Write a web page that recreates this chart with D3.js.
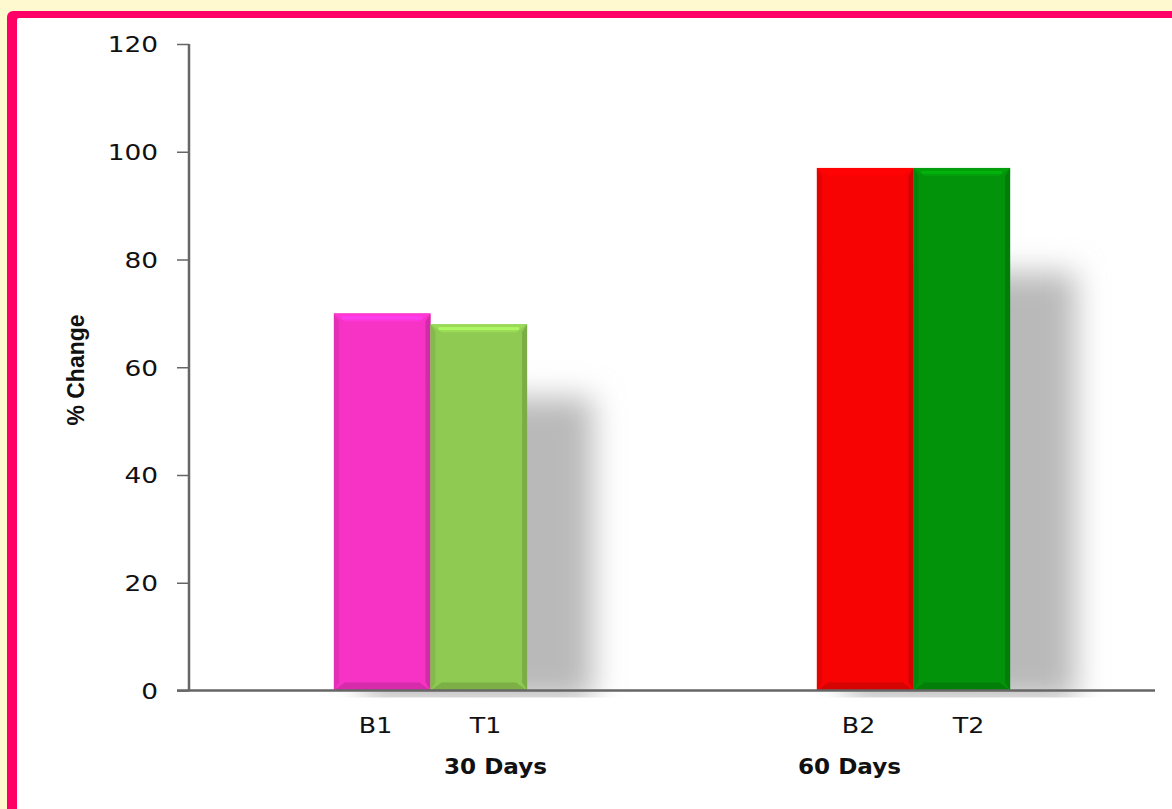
<!DOCTYPE html>
<html>
<head>
<meta charset="utf-8">
<script src="https://cdn.jsdelivr.net/npm/d3@7/dist/d3.min.js"></script>
<style>
  html, body { margin: 0; padding: 0; background: #fff9cf; }
  svg { display: block; }
</style>
</head>
<body>
<svg id="chart" width="1172" height="809"></svg>
<script>
// Percent change at 30 and 60 days, baseline (B) vs treatment (T)
const categories = ["30 Days", "60 Days"];
const seriesKeys = ["B", "T"];
const barLabels = [["B1", "T1"], ["B2", "T2"]];
const bValues = [70, 97];
const tValues = [68, 97];
const barColors = [["#f733c6", "#8fcb52"], ["#f70303", "#02930a"]];
const yTicks = [0, 20, 40, 60, 80, 100, 120];
const yTitle = "% Change";

const svg = d3.select("#chart");
const W = 1172, H = 809;

// page background and framed panel
svg.append("rect").attr("width", W).attr("height", H).attr("fill", "#fff9cf");
svg.append("rect").attr("x", 7).attr("y", 11).attr("width", W + 40).attr("height", H + 40)
  .attr("rx", 6).attr("fill", "#ff0066");
svg.append("rect").attr("x", 17).attr("y", 18).attr("width", W + 40).attr("height", H + 40)
  .attr("rx", 2).attr("fill", "#ffffff");

const plot = { left: 189, right: 1155, top: 44, bottom: 690.5 };

const x = d3.scaleBand().domain(categories).range([plot.left, plot.right]).padding(0);
const y = d3.scaleLinear().domain([0, 120]).range([plot.bottom, plot.top]);
const groupWidth = x.bandwidth() * 0.4;
const xSub = d3.scaleBand().domain(seriesKeys).range([-groupWidth / 2, groupWidth / 2]).padding(0);

const rows = [];
categories.forEach((c, i) => {
  [bValues[i], tValues[i]].forEach((v, j) => {
    rows.push({
      cat: c, key: seriesKeys[j], value: v, label: barLabels[i][j], color: barColors[i][j],
      x0: x(c) + x.bandwidth() / 2 + xSub(seriesKeys[j]), w: xSub.bandwidth()
    });
  });
});

// soft drop shadow, kept to a thin band below the axis
const defs = svg.append("defs");
defs.append("filter").attr("id", "soft").attr("x", "-50%").attr("y", "-50%")
  .attr("width", "200%").attr("height", "200%")
  .append("feGaussianBlur").attr("stdDeviation", 15);
defs.append("clipPath").attr("id", "shadowClip")
  .append("rect").attr("x", 0).attr("y", 0).attr("width", W).attr("height", plot.bottom + 7);

const shadowG = svg.append("g").attr("clip-path", "url(#shadowClip)")
  .append("g").attr("filter", "url(#soft)");
shadowG.selectAll("rect").data(rows).join("rect")
  .attr("x", d => d.x0 + 30)
  .attr("y", d => y(d.value * 0.8))
  .attr("width", d => d.w + 36)
  .attr("height", d => y(0) - y(d.value * 0.8) + 10)
  .attr("fill", "#b9b9b9");

// bevelled bars
const bevel = 8;
const barG = svg.append("g");
rows.forEach(d => {
  const x0 = d.x0, x1 = d.x0 + d.w, y0 = y(d.value), y1 = y(0);
  const g = barG.append("g");
  const base = d3.color(d.color);
  g.append("rect").attr("x", x0).attr("y", y0).attr("width", d.w).attr("height", y1 - y0)
    .attr("fill", d.color);
  const poly = (pts, fill) => g.append("polygon")
    .attr("points", pts.map(p => p.join(",")).join(" ")).attr("fill", fill);
  // sides
  poly([[x0, y0], [x0 + 5, y0 + bevel], [x0 + 5, y1 - bevel], [x0, y1]], base.darker(0.25));
  poly([[x1, y0], [x1 - 5, y0 + bevel], [x1 - 5, y1 - bevel], [x1, y1]], base.darker(0.45));
  // top
  poly([[x0, y0], [x1, y0], [x1 - bevel - 3, y0 + bevel], [x0 + bevel + 3, y0 + bevel]], base.brighter(0.2));
  g.append("rect").attr("x", x0 + bevel).attr("y", y0 + 3).attr("width", d.w - 2 * bevel).attr("height", 3)
    .attr("fill", base.brighter(0.55));
  // bottom
  poly([[x0, y1], [x1, y1], [x1 - bevel - 3, y1 - bevel], [x0 + bevel + 3, y1 - bevel]], base.darker(0.4));
});

// axes
const axisColor = "#666666";
const yAxis = svg.append("g").attr("transform", `translate(${plot.left},0)`)
  .call(d3.axisLeft(y).tickValues(yTicks).tickSize(12).tickFormat(d3.format("d")));
yAxis.select(".domain").remove();
yAxis.selectAll(".tick line").attr("stroke", axisColor).attr("stroke-width", 1.5);
yAxis.selectAll(".tick text").remove();
yAxis.selectAll(".tick").append("text")
  .attr("transform", "translate(-31,0) scale(1.2,1)")
  .attr("text-anchor", "end").attr("dy", "0.36em")
  .attr("font-family", "DejaVu Sans, Verdana, sans-serif").attr("font-size", 22)
  .attr("fill", "#111").text(d => d);
svg.append("line").attr("x1", plot.left).attr("x2", plot.left)
  .attr("y1", y(120)).attr("y2", y(0)).attr("stroke", axisColor).attr("stroke-width", 2.5);
svg.append("line").attr("x1", plot.left - 12).attr("x2", plot.right)
  .attr("y1", y(0)).attr("y2", y(0)).attr("stroke", axisColor).attr("stroke-width", 2.5);

// bar labels under the axis
svg.append("g").selectAll("text").data(rows).join("text")
  .attr("transform", d => {
    const c = x(d.cat) + x.bandwidth() / 2;
    const off = d.key === "B" ? -55 : 55;
    return `translate(${c + off},733) scale(1.15,1)`;
  })
  .attr("text-anchor", "middle")
  .attr("font-family", "DejaVu Sans, Verdana, sans-serif").attr("font-size", 22)
  .attr("fill", "#111").text(d => d.label);

// category labels
const catOffsets = [65, -64];
svg.append("g").selectAll("text").data(categories).join("text")
  .attr("transform", (d, i) => `translate(${x(d) + x.bandwidth() / 2 + catOffsets[i]},774) scale(1.1,1)`)
  .attr("text-anchor", "middle")
  .attr("font-family", "DejaVu Sans, Verdana, sans-serif").attr("font-weight", "bold")
  .attr("font-size", 21).attr("fill", "#111").text(d => d);

// y axis title
svg.append("text")
  .attr("transform", "translate(84,370) rotate(-90)")
  .attr("text-anchor", "middle")
  .attr("font-family", "Liberation Sans Narrow, Arial Narrow, sans-serif").attr("font-weight", "bold")
  .attr("font-size", 23).attr("fill", "#111").text(yTitle);
</script>
</body>
</html>
